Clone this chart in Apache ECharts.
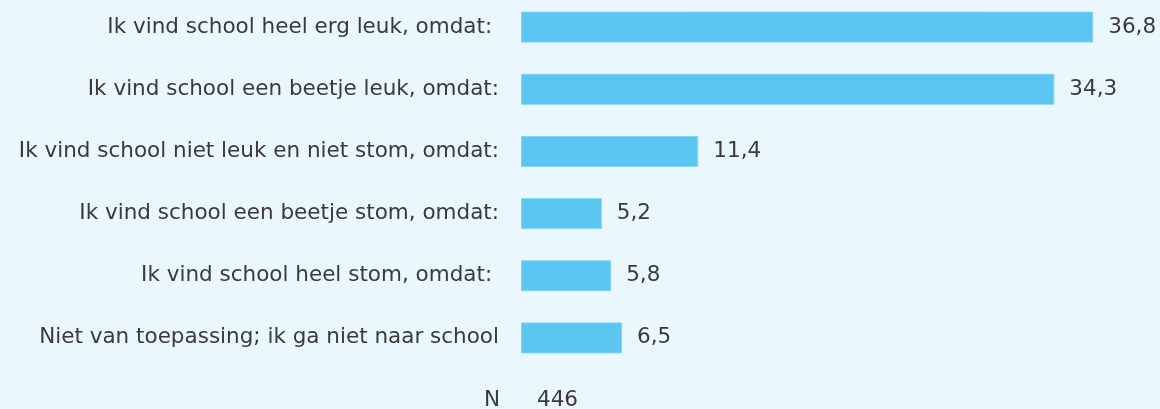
<!DOCTYPE html>
<html>
<head>
<meta charset="utf-8">
<script src="https://cdn.jsdelivr.net/npm/echarts@6/dist/echarts.min.js"></script>
<style>
	html, body { margin: 0; padding: 0; background: #ebf7fe; }
	#chart { width: 1160px; height: 409px; }
</style>
</head>
<body>
<div id="chart"></div>
<script>
// categories top to bottom
var categories = [
	'Ik vind school heel erg leuk, omdat: ',
	'Ik vind school een beetje leuk, omdat:',
	'Ik vind school niet leuk en niet stom, omdat:',
	'Ik vind school een beetje stom, omdat:',
	'Ik vind school heel stom, omdat: ',
	'Niet van toepassing; ik ga niet naar school'
];
var values = [36.8, 34.3, 11.4, 5.2, 5.8, 6.5];
var nLabel = 'N';
var nValue = 446;

var textColor = '#3a3a3a';
var fontFam = 'DejaVu Sans';
var fontSz = 21.5;

var myChart = echarts.init(document.getElementById('chart'));
var option = {
	backgroundColor: '#ebf7fe',
	animation: false,
	grid: {
		left: 521,
		right: 17,
		top: -4,
		bottom: 40,
		outerBoundsMode: 'none'
	},
	xAxis: {
		type: 'value',
		min: 0,
		max: 40,
		show: false
	},
	yAxis: {
		type: 'category',
		inverse: true,
		data: categories,
		axisLine: { show: false },
		axisTick: { show: false },
		axisLabel: {
			margin: 22,
			color: textColor,
			fontSize: fontSz,
			fontFamily: fontFam
		}
	},
	series: [
		{
			type: 'bar',
			data: values,
			barWidth: 31,
			itemStyle: {
				color: '#5bc6f2',
				borderColor: '#86d4f4',
				borderWidth: 1
			},
			label: {
				show: true,
				position: 'right',
				distance: 15,
				color: textColor,
				fontSize: fontSz,
				fontFamily: fontFam,
				formatter: function (p) {
					return p.value.toFixed(1).replace('.', ',');
				}
			}
		}
	],
	graphic: [
		{
			type: 'text',
			x: 500,
			y: 400,
			style: {
				text: nLabel,
				fill: textColor,
				font: fontSz + 'px "DejaVu Sans"',
				align: 'right',
				verticalAlign: 'middle'
			}
		},
		{
			type: 'text',
			x: 537,
			y: 400,
			style: {
				text: String(nValue),
				fill: textColor,
				font: fontSz + 'px "DejaVu Sans"',
				align: 'left',
				verticalAlign: 'middle'
			}
		}
	]
};
myChart.setOption(option);
</script>
</body>
</html>
